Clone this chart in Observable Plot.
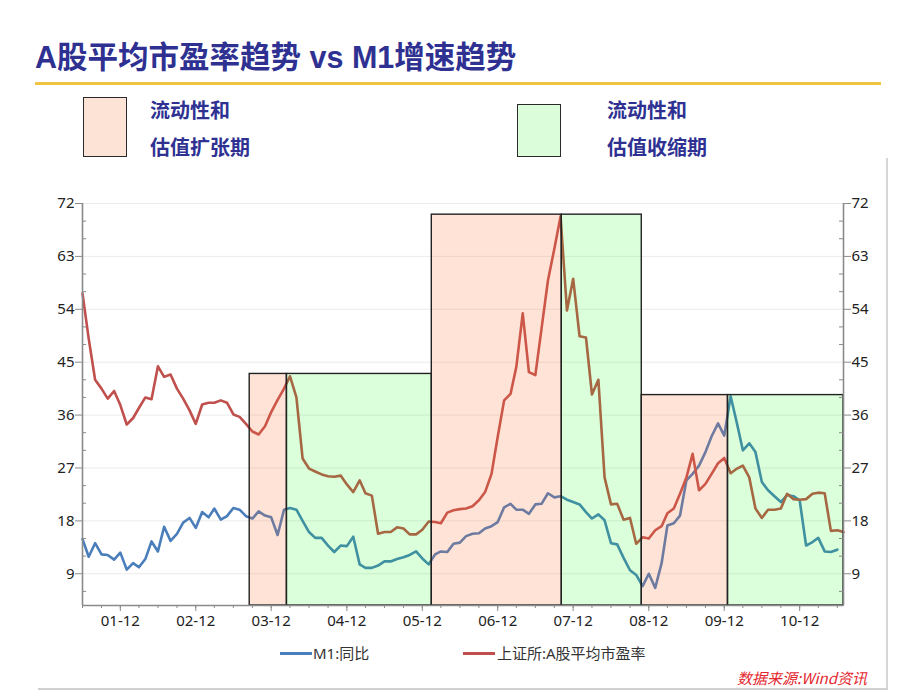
<!DOCTYPE html>
<html>
<head>
<meta charset="utf-8">
<script src="https://cdn.jsdelivr.net/npm/d3@7"></script>
<script src="https://cdn.jsdelivr.net/npm/@observablehq/plot@0.6"></script>
<style>
  html, body { margin: 0; padding: 0; background: #fff; }
  #page { position: relative; width: 920px; height: 690px; overflow: hidden; font-family: "Noto Sans", "Noto Sans CJK SC", sans-serif; }
  .abs { position: absolute; white-space: nowrap; }
  #title { left: 35px; top: 42px; font: bold 30.5px "Liberation Sans", "Noto Sans CJK SC", sans-serif; color: #2E3192; line-height: 31px; }
  #rule { left: 35px; top: 82px; width: 846px; height: 3px; background: #F2C443; }
  .box { position: absolute; border: 1px solid #2a2a2a; box-sizing: border-box; }
  .ltxt { position: absolute; font: bold 20px "Noto Sans CJK SC", sans-serif; color: #2E3192; line-height: 20px; white-space: nowrap; }
  #frameR { left: 886px; top: 158px; width: 2px; height: 532px; background: #d6d6d6; }
  #frameB { left: 38px; top: 688px; width: 850px; height: 2px; background: #d0d0d0; }
  #chart { position: absolute; left: 0; top: 190px; }
  .sw { position: absolute; height: 3px; width: 32px; }
  .lg { position: absolute; font: 15px "Noto Sans", "Noto Sans CJK SC", sans-serif; color: #333; line-height: 16px; white-space: nowrap; }
  #src { right: 53px; top: 670px; font: italic 15px "Noto Sans CJK SC", sans-serif; color: #E4262E; line-height: 16px; }
</style>
</head>
<body>
<div id="page">
  <div id="title" class="abs">A股平均市盈率趋势 vs M1增速趋势</div>
  <div id="rule" class="abs"></div>

  <div class="box" style="left:83px;top:97px;width:44px;height:60px;background:#FDE3D5;"></div>
  <div class="ltxt" style="left:150px;top:100px;">流动性和</div>
  <div class="ltxt" style="left:150px;top:137px;">估值扩张期</div>

  <div class="box" style="left:517px;top:104px;width:44px;height:53px;background:#DCFDDA;"></div>
  <div class="ltxt" style="left:607px;top:100px;">流动性和</div>
  <div class="ltxt" style="left:607px;top:137px;">估值收缩期</div>

  <div id="frameR" class="abs"></div>
  <div id="frameB" class="abs"></div>

  <div id="chart"></div>

  <div class="sw" style="left:280px;top:652px;background:#4A7EBB;"></div>
  <div class="lg" style="left:313px;top:645px;">M1:同比</div>
  <div class="sw" style="left:463px;top:652px;background:#C0504D;"></div>
  <div class="lg" style="left:497px;top:645px;">上证所:A股平均市盈率</div>

  <div id="src" class="abs">数据来源:Wind资讯</div>
</div>

<script>
// ---------- data (monthly, first month = 2001-06) ----------
const firstMonth = "2001-06-01";
const lastMonth = "2011-07-01";

// M1 year-on-year growth (%), 2001-06 .. 2011-06
const m1Values = [
  14.9, 11.9, 14.2, 12.3, 12.2, 11.4, 12.6, 9.7, 10.8, 10.1,
  11.5, 14.5, 12.8, 17.0, 14.6, 15.8, 17.7, 18.5, 16.8, 19.5,
  18.6, 20.1, 18.2, 18.8, 20.2, 19.9, 18.8, 18.4, 19.6, 18.9,
  18.6, 15.6, 19.9, 20.2, 19.9, 18.0, 16.1, 15.1, 15.1, 13.8,
  12.7, 13.8, 13.7, 15.3, 10.6, 10.0, 10.0, 10.4, 11.1, 11.1,
  11.5, 11.8, 12.2, 12.8, 11.6, 10.6, 12.3, 12.8, 12.7, 14.1,
  14.3, 15.4, 15.8, 15.9, 16.7, 17.1, 17.8, 20.3, 20.9, 19.9,
  19.9, 19.2, 20.8, 20.9, 22.7, 22.0, 22.2, 21.6, 21.2, 20.8,
  19.5, 18.4, 19.1, 18.1, 14.2, 14.0, 11.7, 9.6, 8.8, 6.9,
  9.0, 6.6, 10.8, 17.2, 17.6, 18.9, 24.9, 26.0, 27.4, 29.7,
  32.4, 34.6, 32.5, 39.2, 34.5, 30.0, 31.2, 29.7, 24.6, 23.2,
  22.2, 21.2, 22.4, 22.2, 21.5, 13.8, 14.4, 15.1, 12.8, 12.7,
  13.1
];

// SSE A-share average P/E, 2001-06 .. 2011-07
const peValues = [
  56.7, 49.0, 42.0, 40.5, 38.8, 40.1, 37.7, 34.4, 35.5, 37.2,
  39.0, 38.7, 44.3, 42.5, 42.9, 40.5, 38.8, 36.8, 34.5, 37.8,
  38.1, 38.1, 38.5, 38.1, 36.1, 35.7, 34.5, 33.2, 32.7, 34.1,
  36.5, 38.6, 40.5, 42.6, 39.0, 28.6, 26.9, 26.4, 25.9, 25.6,
  25.5, 25.7, 24.2, 22.9, 24.9, 22.7, 22.3, 15.8, 16.1, 16.1,
  16.9, 16.7, 15.7, 15.7, 16.5, 17.9, 17.8, 17.6, 19.4, 19.8,
  20.0, 20.1, 20.5, 21.5, 22.9, 26.0, 32.3, 38.5, 39.6, 44.2,
  53.3, 43.3, 42.8, 50.7, 58.9, 64.3, 69.8, 53.8, 59.2, 49.4,
  49.2, 39.5, 42.0, 25.4, 20.8, 20.9, 18.2, 18.5, 14.1, 15.2,
  15.0, 16.4, 17.1, 19.3, 20.1, 22.6, 25.4, 29.4, 23.2, 24.3,
  26.0, 27.8, 28.7, 26.1, 26.9, 27.4, 25.4, 20.1, 18.5, 19.9,
  19.9, 20.1, 22.6, 21.7, 21.6, 21.7, 22.6, 22.8, 22.7, 16.3,
  16.4, 16.1
];

// liquidity / valuation phases
const phaseType  = ["expand", "contract", "expand", "contract", "expand", "contract"];
const phaseStart = ["2003-08-19", "2004-02-15", "2006-01-16", "2007-10-07", "2008-10-28", "2009-12-19"];
const phaseEnd   = ["2004-02-15", "2006-01-16", "2007-10-07", "2008-10-28", "2009-12-19", "2011-07-01"];
const phaseTop   = [43.0, 43.0, 70.1, 70.1, 39.4, 39.4];

// axis ticks
const yMin = 3.6, yMax = 72;
const yMajorTicks = [9, 18, 27, 36, 45, 54, 63, 72];
const yMinorTicks = [6, 12, 15, 21, 24, 30, 33, 39, 42, 48, 51, 57, 60, 66, 69];
const xLabelYears = ["2001","2002","2003","2004","2005","2006","2007","2008","2009","2010"];

// ---------- build ----------
const parse = d3.utcParse("%Y-%m-%d");
const t0 = parse(firstMonth), t1 = parse(lastMonth);
const m1Data = m1Values.map((v, i) => ({date: d3.utcMonth.offset(t0, i), value: v}));
const peData = peValues.map((v, i) => ({date: d3.utcMonth.offset(t0, i), value: v}));
const phases = phaseType.map((t, i) => ({type: t, start: parse(phaseStart[i]), end: parse(phaseEnd[i]), top: phaseTop[i], base: yMin}));
const expandPhases = phases.filter(d => d.type === "expand");
const contractPhases = phases.filter(d => d.type === "contract");

const quarterTicks = d3.utcMonth.range(t0, d3.utcMonth.offset(t1, 1)).filter(d => d.getUTCMonth() % 3 === 2);
const decTicks = xLabelYears.map(y => parse(y + "-12-01"));

const W = 920, H = 440, ML = 82, MR = 77, MT = 13, MB = 25;
const innerW = W - ML - MR;
const axisGray = "#8a8a8a";

const chart = Plot.plot({
  width: W, height: H,
  marginLeft: ML, marginRight: MR, marginTop: MT, marginBottom: MB,
  style: {fontSize: "15px", fontFamily: "'Noto Sans', 'DejaVu Sans', sans-serif", background: "transparent", color: "#222"},
  x: {type: "utc", domain: [t0, t1], axis: null},
  y: {domain: [yMin, yMax], axis: null},
  marks: [
    Plot.ruleY(yMajorTicks, {stroke: "#ebebeb", strokeWidth: 1}),
    Plot.line(m1Data, {x: "date", y: "value", stroke: "#4A7EBB", strokeWidth: 2.6}),
    Plot.line(peData, {x: "date", y: "value", stroke: "#C0504D", strokeWidth: 2.6}),
    Plot.rect(expandPhases, {x1: "start", x2: "end", y1: "base", y2: "top", fill: "rgb(255,115,55)", fillOpacity: 0.2}),
    Plot.rect(contractPhases, {x1: "start", x2: "end", y1: "base", y2: "top", fill: "rgb(0,255,0)", fillOpacity: 0.14}),
    Plot.rect(phases, {x1: "start", x2: "end", y1: "base", y2: "top", fill: "none", stroke: "#222", strokeWidth: 1.4}),
    // axes
    Plot.axisY(yMajorTicks, {anchor: "left", tickSize: 7, tickPadding: 1, stroke: axisGray, fill: "#222", label: null}),
    Plot.axisY(yMajorTicks, {anchor: "right", tickSize: 7, tickPadding: 1, stroke: axisGray, fill: "#222", label: null}),
    Plot.tickY(yMinorTicks, {y: d => d, insetRight: innerW - 4, stroke: axisGray}),
    Plot.tickY(yMinorTicks, {y: d => d, insetLeft: innerW - 4, stroke: axisGray}),
    Plot.axisX(quarterTicks, {anchor: "bottom", tickSize: 3, tickFormat: () => "", stroke: axisGray, label: null}),
    Plot.axisX(decTicks, {anchor: "bottom", tickSize: 6, tickPadding: 4, tickFormat: d3.utcFormat("%y-%m"), stroke: axisGray, fill: "#222", label: null}),
    Plot.ruleX([t0, t1], {stroke: axisGray, strokeWidth: 1.6}),
    Plot.ruleY([yMin], {stroke: axisGray, strokeWidth: 1.6})
  ]
});
document.getElementById("chart").appendChild(chart);
</script>
</body>
</html>
